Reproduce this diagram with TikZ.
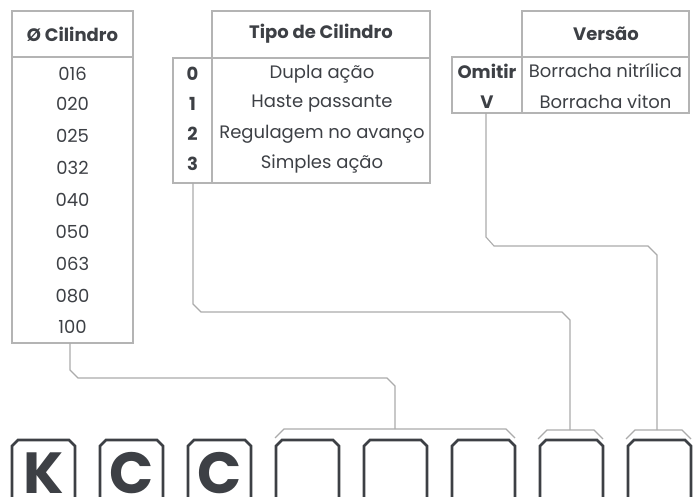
\documentclass[tikz,border=0pt]{standalone}
\usepackage{fontspec}
\setmainfont{Poppins}
\definecolor{txt}{HTML}{3D4045}
\definecolor{gridc}{HTML}{B4B4B4}
\definecolor{connc}{HTML}{ABABAB}
\begin{document}
\begin{tikzpicture}[x=1pt,y=-1pt,
  cell/.style={font=\fontsize{18}{20}\selectfont, text=txt, inner sep=0pt, anchor=center},
  hcell/.style={cell, font=\fontsize{18}{20}\selectfont\bfseries},
  tbl/.style={draw=gridc, line width=1.2pt},
  conn/.style={draw=connc, line width=1.1pt},
  slot/.style={draw=txt, line width=2.6pt, line join=miter},
  big/.style={font=\fontsize{58}{58}\selectfont\bfseries, text=txt, inner sep=0pt, anchor=base, text depth=0pt}]
\useasboundingbox (0,0) rectangle (698,497);
\clip (0,0) rectangle (698,497);

% ---- Table: diameter
\draw[tbl] (12,11) rectangle (133,343);
\draw[tbl] (12,57) -- (133,57);
\node[hcell] (hcil) at (72.5,34) {Ø Cilindro};
\node[cell] (d1) at (72.5,74) {016};
\node[cell] (d2) at (72.5,104) {020};
\node[cell] (d3) at (72.5,136) {025};
\node[cell] (d4) at (72.5,168) {032};
\node[cell] (d5) at (72.5,200) {040};
\node[cell] (d6) at (72.5,232) {050};
\node[cell] (d7) at (72.5,264) {063};
\node[cell] (d8) at (72.5,296) {080};
\node[cell] (d9) at (72.5,327) {100};

% ---- Table: type
\draw[tbl] (212,11) rectangle (430,58);
\draw[tbl] (173,58) rectangle (430,183);
\draw[tbl] (212,58) -- (212,183);
\node[hcell] (htipo) at (321,34) {Tipo de Cilindro};
\node[hcell] (t0n) at (192.5,74) {0};
\node[hcell] (t1n) at (192.5,104) {1};
\node[hcell] (t2n) at (192.5,134) {2};
\node[hcell] (t3n) at (192.5,164) {3};
\node[cell] (t0) at (322,74) {Dupla ação};
\node[cell] (t1) at (322,104) {Haste passante};
\node[cell] (t2) at (322,134) {Regulagem no avanço};
\node[cell] (t3) at (322,164) {Simples ação};

% ---- Table: version
\draw[tbl] (522,11) rectangle (689,57);
\draw[tbl] (452,57) rectangle (689,113);
\draw[tbl] (522,57) -- (522,113);
\node[hcell] (hver) at (606,34) {Versão};
\node[hcell] (vom) at (487,71) {Omitir};
\node[hcell] (vv) at (487,102) {V};
\node[cell] (vn) at (605.5,71) {Borracha nitrílica};
\node[cell] (vvi) at (605.5,102) {Borracha viton};

% ---- connector anchor points
\coordinate (cilout) at (70,343);
\coordinate (tipout) at (193,183);
\coordinate (verout) at (486,113);
\coordinate (b1) at (395,429);
\coordinate (b4) at (570,430);
\coordinate (b5) at (657,430);

% ---- connectors
\draw[conn] (cilout) -- (70,370) -- (78,378) -- (387,378) -- (395,386) -- (b1);
\draw[conn] (tipout) -- (193,304) -- (201,312) -- (562,312) -- (570,320) -- (b4);
\draw[conn] (verout) -- (486,237) -- (494,246) -- (648,246) -- (657,255) -- (b5);

% ---- brackets
\draw[conn] (275,438) -- (284,429) -- (506,429) -- (515,438);
\draw[conn] (538,439) -- (547,430) -- (594,430) -- (603,439);
\draw[conn] (626,439) -- (635,430) -- (682,430) -- (691,439);

% ---- code slots
\foreach \i in {0,...,7}{
  \pgfmathsetmacro{\xa}{12+88*\i}
  \draw[slot] (\xa,505) -- (\xa,446) -- (\xa+6,440) -- (\xa+57,440) -- (\xa+63,446) -- (\xa+63,505);
}
\node[big] (lk) at (43.5,493) {K};
\node[big] (lc1) at (131.5,493) {C};
\node[big] (lc2) at (219.5,493) {C};
\end{tikzpicture}
\end{document}
